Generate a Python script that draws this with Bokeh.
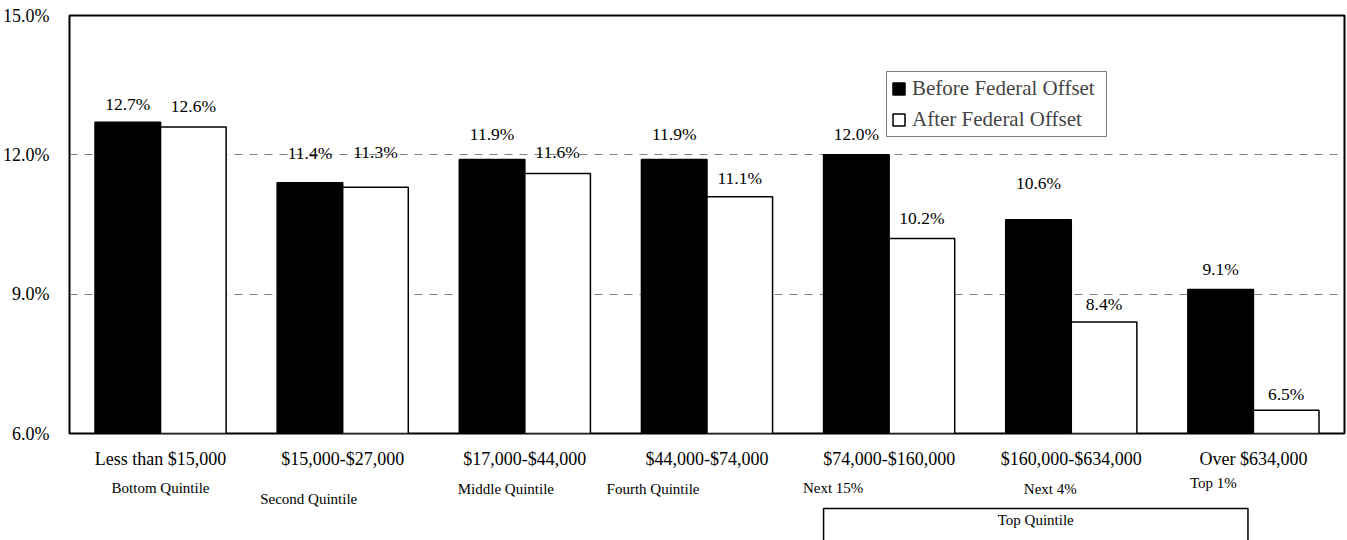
from bokeh.plotting import figure
from bokeh.layouts import column
from bokeh.models import Range1d, FixedTicker, Legend, LegendItem, ColumnDataSource
from bokeh.core.properties import value
from bokeh.embed import file_html
from bokeh.resources import INLINE

# ---- data ----
categories = ["Less than $15,000", "$15,000-$27,000", "$17,000-$44,000", "$44,000-$74,000",
              "$74,000-$160,000", "$160,000-$634,000", "Over $634,000"]
groups = ["Bottom Quintile", "Second Quintile", "Middle Quintile", "Fourth Quintile",
          "Next 15%", "Next 4%", "Top 1%"]
before = [12.7, 11.4, 11.9, 11.9, 12.0, 10.6, 9.1]
after = [12.6, 11.3, 11.6, 11.1, 10.2, 8.4, 6.5]
series = ["Before Federal Offset", "After Federal Offset"]
y_ticks = [6, 9, 12, 15]
y_tick_labels = ["6.0%", "9.0%", "12.0%", "15.0%"]
top_group_label = "Top Quintile"

# ---- layout (pixels) ----
W, H = 1347, 540
FL, FR, FT, FB = 69, 1344, 15, 433
H1 = 471  # height of main figure (frame + category labels)
before_lbl_off = [18, 30, 25, 25, 21, 37, 21]
after_lbl_off = [21, 35, 21, 19, 20, 18, 16]
group_lbl_dx = [0, -34, -19, -54, -56, -21, -40]
group_lbl_py = [487, 498, 488, 488, 487, 488, 482]
bar_w = 0.36
FONT = "Liberation Serif"

n = len(categories)
ymin, ymax = y_ticks[0], y_ticks[-1]
px_x = (FR - FL) / n

p = figure(width=W, height=H1, x_range=Range1d(-0.5, n - 0.5), y_range=Range1d(ymin, ymax),
           output_backend="svg", toolbar_location=None,
           min_border_left=FL, min_border_right=W - FR, min_border_top=FT, min_border_bottom=H1 - FB)
p.outline_line_color = "black"
p.outline_line_width = 2
p.background_fill_color = "white"
p.border_fill_color = "white"

xs = list(range(n))
src = ColumnDataSource(dict(
    xb=[x - bar_w / 2 for x in xs], xa=[x + bar_w / 2 for x in xs],
    before=before, after=after,
    lb=["%.1f%%" % v for v in before], la=["%.1f%%" % v for v in after],
    ob=[-o for o in before_lbl_off], oa=[-o for o in after_lbl_off],
))

r1 = p.vbar(x="xb", top="before", bottom=ymin, width=bar_w, source=src,
            fill_color="black", line_color="black", line_width=1.5)
r2 = p.vbar(x="xa", top="after", bottom=ymin, width=bar_w, source=src,
            fill_color="white", line_color="black", line_width=1.5)

p.text(x="xb", y="before", text="lb", y_offset="ob", source=src, text_align="center",
       text_baseline="middle", text_font=value(FONT), text_font_size="17.5px", text_color="black")
p.text(x="xa", y="after", text="la", y_offset="oa", source=src, text_align="center",
       text_baseline="middle", text_font=value(FONT), text_font_size="17.5px", text_color="black")

# axes
yax = p.yaxis[0]
yax.ticker = FixedTicker(ticks=y_ticks)
yax.major_label_overrides = {t: l for t, l in zip(y_ticks, y_tick_labels)}
yax.major_label_text_font = FONT
yax.major_label_text_font_size = "18px"
yax.major_label_text_color = "black"
yax.major_tick_line_color = None
yax.minor_tick_line_color = None
yax.axis_line_color = None
yax.major_label_standoff = 14

xax = p.xaxis[0]
xax.ticker = FixedTicker(ticks=xs)
xax.major_label_overrides = {i: c for i, c in enumerate(categories)}
xax.major_label_text_font = FONT
xax.major_label_text_font_size = "18px"
xax.major_label_text_color = "black"
xax.major_tick_line_color = None
xax.minor_tick_line_color = None
xax.axis_line_color = None
xax.major_label_standoff = 9

p.xgrid.grid_line_color = None
p.ygrid.ticker = FixedTicker(ticks=y_ticks[1:-1])
p.ygrid.grid_line_color = "#808080"
p.ygrid.grid_line_dash = "8 7"
p.ygrid.grid_line_width = 1

legend = Legend(items=[LegendItem(label=series[0], renderers=[r1]),
                       LegendItem(label=series[1], renderers=[r2])],
                location=(886 - FL, FB - 137), label_text_font=FONT, label_text_font_size="21px",
                glyph_width=15, glyph_height=15, label_standoff=6, padding=4, spacing=6,
                label_height=22, label_width=190, border_line_color="black", border_line_width=1,
                background_fill_color="white", background_fill_alpha=1, margin=0)
p.add_layout(legend)

# ---- lower strip: group sub-labels and Top Quintile bracket (y in page pixels) ----
p2 = figure(width=W, height=H - H1, x_range=p.x_range, y_range=Range1d(H, H1),
            output_backend="svg", toolbar_location=None, x_axis_location=None, y_axis_location=None,
            min_border_left=FL, min_border_right=W - FR, min_border_top=0, min_border_bottom=0)
p2.outline_line_color = None
p2.grid.grid_line_color = None
p2.background_fill_color = "white"
p2.border_fill_color = "white"

p2.text(x=[i + d / px_x for i, d in zip(xs, group_lbl_dx)], y=group_lbl_py, text=groups,
        text_align="center", text_baseline="middle", text_font=value(FONT),
        text_font_size="15px", text_color="black")

box_l, box_r = 4 - bar_w, 6 - 0.03
p2.quad(left=[box_l], right=[box_r], top=[508], bottom=[H + 20], fill_color=None,
        line_color="black", line_width=1.5)
p2.text(x=[(box_l + box_r) / 2], y=[519], text=[top_group_label], text_align="center",
        text_baseline="middle", text_font=value(FONT), text_font_size="15px", text_color="black")

layout = column(p, p2, spacing=0)
open("out.html", "w").write(file_html(layout, INLINE))
